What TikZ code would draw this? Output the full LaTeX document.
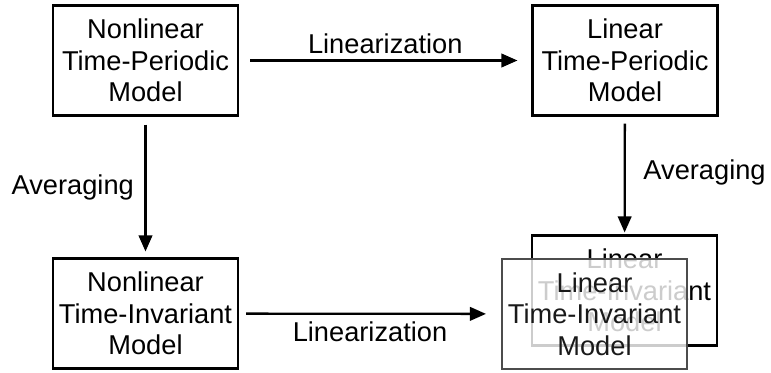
\documentclass[tikz,border=0pt]{standalone}
\usepackage{fontspec}
\setmainfont{Liberation Sans}
\usetikzlibrary{arrows.meta}

\begin{document}
\begin{tikzpicture}[
    model/.style={draw,line width=1.2pt,minimum width=3.7cm,minimum height=2.2cm,inner sep=1pt,align=center,font=\fontsize{15.5}{18}\selectfont},
    lbl/.style={font=\fontsize{15.5}{18}\selectfont},
    link/.style={->,line width=1.3pt},
    >={Triangle[length=0.32cm,width=0.27cm]}]
    \useasboundingbox (0,0) rectangle (15.42,7.44);
    \node[model] (ntp) at (2.91,6.23) {Nonlinear\\Time-Periodic\\Model};
    \node[model] (ltp) at (12.5,6.23) {Linear\\Time-Periodic\\Model};
    \node[model] (nti) at (2.91,1.17) {Nonlinear\\Time-Invariant\\Model};
    \node[model] (ltiback) at (12.49,1.63) {Linear\\Time-Invariant\\Model};
    \node[model,draw=black!70,fill=white,fill opacity=0.8,text opacity=1,text=black!90] (lti) at (11.89,1.16) {Linear\\Time-Invariant\\Model};
    \draw[link,shorten <=0.22cm,shorten >=0.28cm] (ntp) -- node[lbl,above,inner sep=3pt] {Linearization} (ltp);
    \draw[link,shorten <=0.14cm,shorten >=0.3cm] (nti) -- node[lbl,below,inner sep=4pt] {Linearization} (lti);
    \draw[link,shorten <=0.16cm,shorten >=0.12cm] (ntp) -- node[lbl,left,inner sep=6pt] {Averaging} (nti);
    \draw[link,shorten <=0.14cm,shorten >=0.04cm] (ltp) -- node[lbl,right,inner sep=10pt,pos=0.47] {Averaging} (ltiback);
\end{tikzpicture}
\end{document}
